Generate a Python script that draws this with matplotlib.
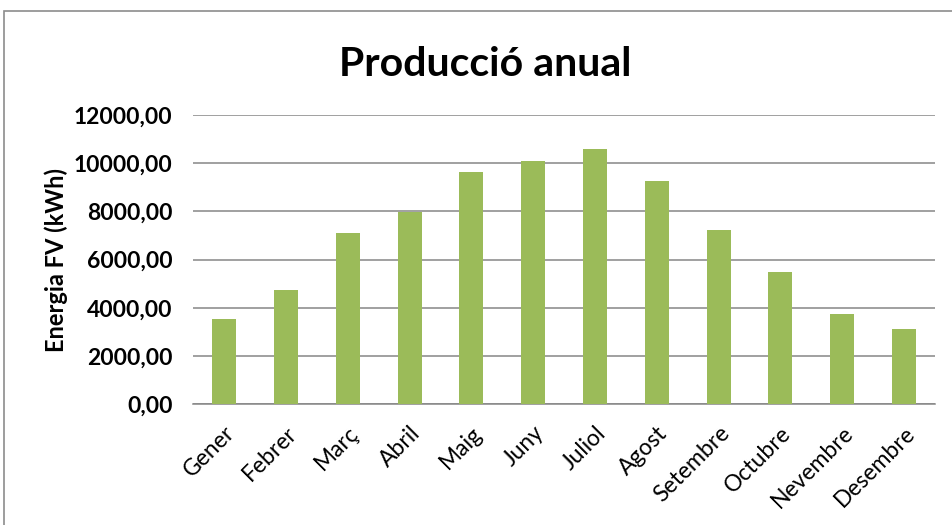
import matplotlib
matplotlib.use("Agg")
import matplotlib.pyplot as plt
from matplotlib.patches import Rectangle
from matplotlib.ticker import FuncFormatter

# dades de producció mensual (kWh)
mesos = ['Gener', 'Febrer', 'Març', 'Abril', 'Maig', 'Juny',
         'Juliol', 'Agost', 'Setembre', 'Octubre', 'Nevembre', 'Desembre']
energia = [3530, 4740, 7090, 7990, 9620, 10100,
           10600, 9250, 7220, 5490, 3760, 3140]
yticks = [0, 2000, 4000, 6000, 8000, 10000, 12000]

plt.rcParams['font.family'] = ['Lato', 'DejaVu Sans']

fig = plt.figure(figsize=(9.52, 5.25), dpi=100)
ax = fig.add_axes([0.203, 0.2299, 0.779, 0.5511])

# marc exterior del gràfic
fig.patches.append(Rectangle((4 / 952, -0.05), 1.2, 1 - 11 / 525 + 0.05,
                             transform=fig.transFigure, fill=False,
                             edgecolor='#8c8c8c', linewidth=1.2))

x = range(len(mesos))
ax.bar(x, energia, width=0.39, color='#9BBB59', zorder=3)

ax.set_xlim(-0.5, len(mesos) - 0.5)
ax.set_ylim(0, 12000)
ax.set_yticks(yticks)
ax.yaxis.set_major_formatter(FuncFormatter(lambda v, p: f'{v:.2f}'.replace('.', ',')))
ax.grid(axis='y', color='#868686', linewidth=1.1, zorder=0)

for s in ['top', 'right', 'left']:
    ax.spines[s].set_visible(False)
ax.spines['bottom'].set_color('#868686')
ax.spines['bottom'].set_linewidth(1.1)

ax.set_xticks(list(x))
ax.set_xticklabels(mesos, rotation=45, ha='right', rotation_mode='anchor', fontsize=16.5)
ax.tick_params(axis='x', length=0, pad=13)
ax.tick_params(axis='y', length=0, pad=15, labelsize=16.5)
for t in ax.get_yticklabels():
    t.set_fontweight('bold')

ax.set_ylabel('Energia FV (kWh)', fontsize=17, fontweight='bold')
ax.yaxis.set_label_coords(-0.169, 0.5)

fig.text(0.51, 0.878, 'Producció anual', ha='center', va='center',
         fontsize=29.5, fontweight='bold')

fig.savefig('out.png', dpi=100)
